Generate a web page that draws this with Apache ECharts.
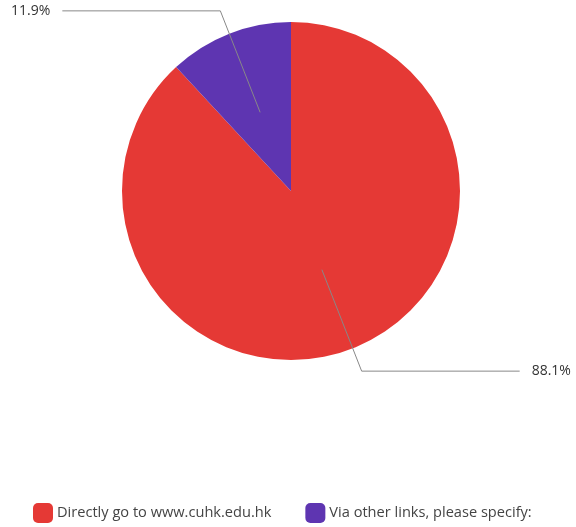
<!DOCTYPE html>
<html>
<head>
<meta charset="utf-8">
<script src="https://cdn.jsdelivr.net/npm/echarts@6/dist/echarts.min.js"></script>
<style>
  html, body { margin: 0; padding: 0; background: #fff; }
  #chart { width: 576px; height: 527px; }
</style>
</head>
<body>
<div id="chart"></div>
<script>
// Answer categories and their shares (percent)
const categories = ['Directly go to www.cuhk.edu.hk', 'Via other links, please specify:'];
const shares = [88.1, 11.9];
const colors = ['#e53935', '#5e35b1'];

const fontFamily = '"Open Sans", Roboto, sans-serif';
const center = [291, 191];
const outerR = 169;

const pieData = categories.map((name, i) => ({ name, value: shares[i] }));

const chart = echarts.init(document.getElementById('chart'), null, { renderer: 'canvas' });
chart.setOption({
  animation: false,
  color: colors,
  legend: {
    top: 498,
    left: 28,
    icon: 'roundRect',
    itemWidth: 20,
    itemHeight: 20,
    itemGap: 34,
    selectedMode: false,
    textStyle: { fontFamily, fontSize: 14.6, color: '#444', padding: [0, 0, 0, -1] },
    data: categories
  },
  series: [
    {
      // the visible pie
      type: 'pie',
      z: 2,
      center,
      radius: outerR,
      startAngle: 90,
      clockwise: true,
      silent: true,
      label: { show: false },
      labelLine: { show: false },
      emphasis: { disabled: true },
      data: pieData
    },
    {
      // an invisible half-radius pie carrying the percent labels,
      // so the leader lines start inside each slice
      type: 'pie',
      z: 5,
      center,
      radius: outerR / 2,
      startAngle: 90,
      clockwise: true,
      silent: true,
      itemStyle: { color: 'rgba(0,0,0,0)' },
      emphasis: { disabled: true },
      avoidLabelOverlap: false,
      label: {
        show: true,
        position: 'outside',
        formatter: p => p.value.toFixed(1) + '%',
        fontFamily,
        fontSize: 14,
        color: '#333',
        distanceToLabelLine: 12
      },
      labelLine: {
        show: true,
        length: 109,
        length2: 158,
        smooth: false,
        lineStyle: { color: '#888', width: 1 }
      },
      data: pieData
    }
  ]
});
</script>
</body>
</html>
